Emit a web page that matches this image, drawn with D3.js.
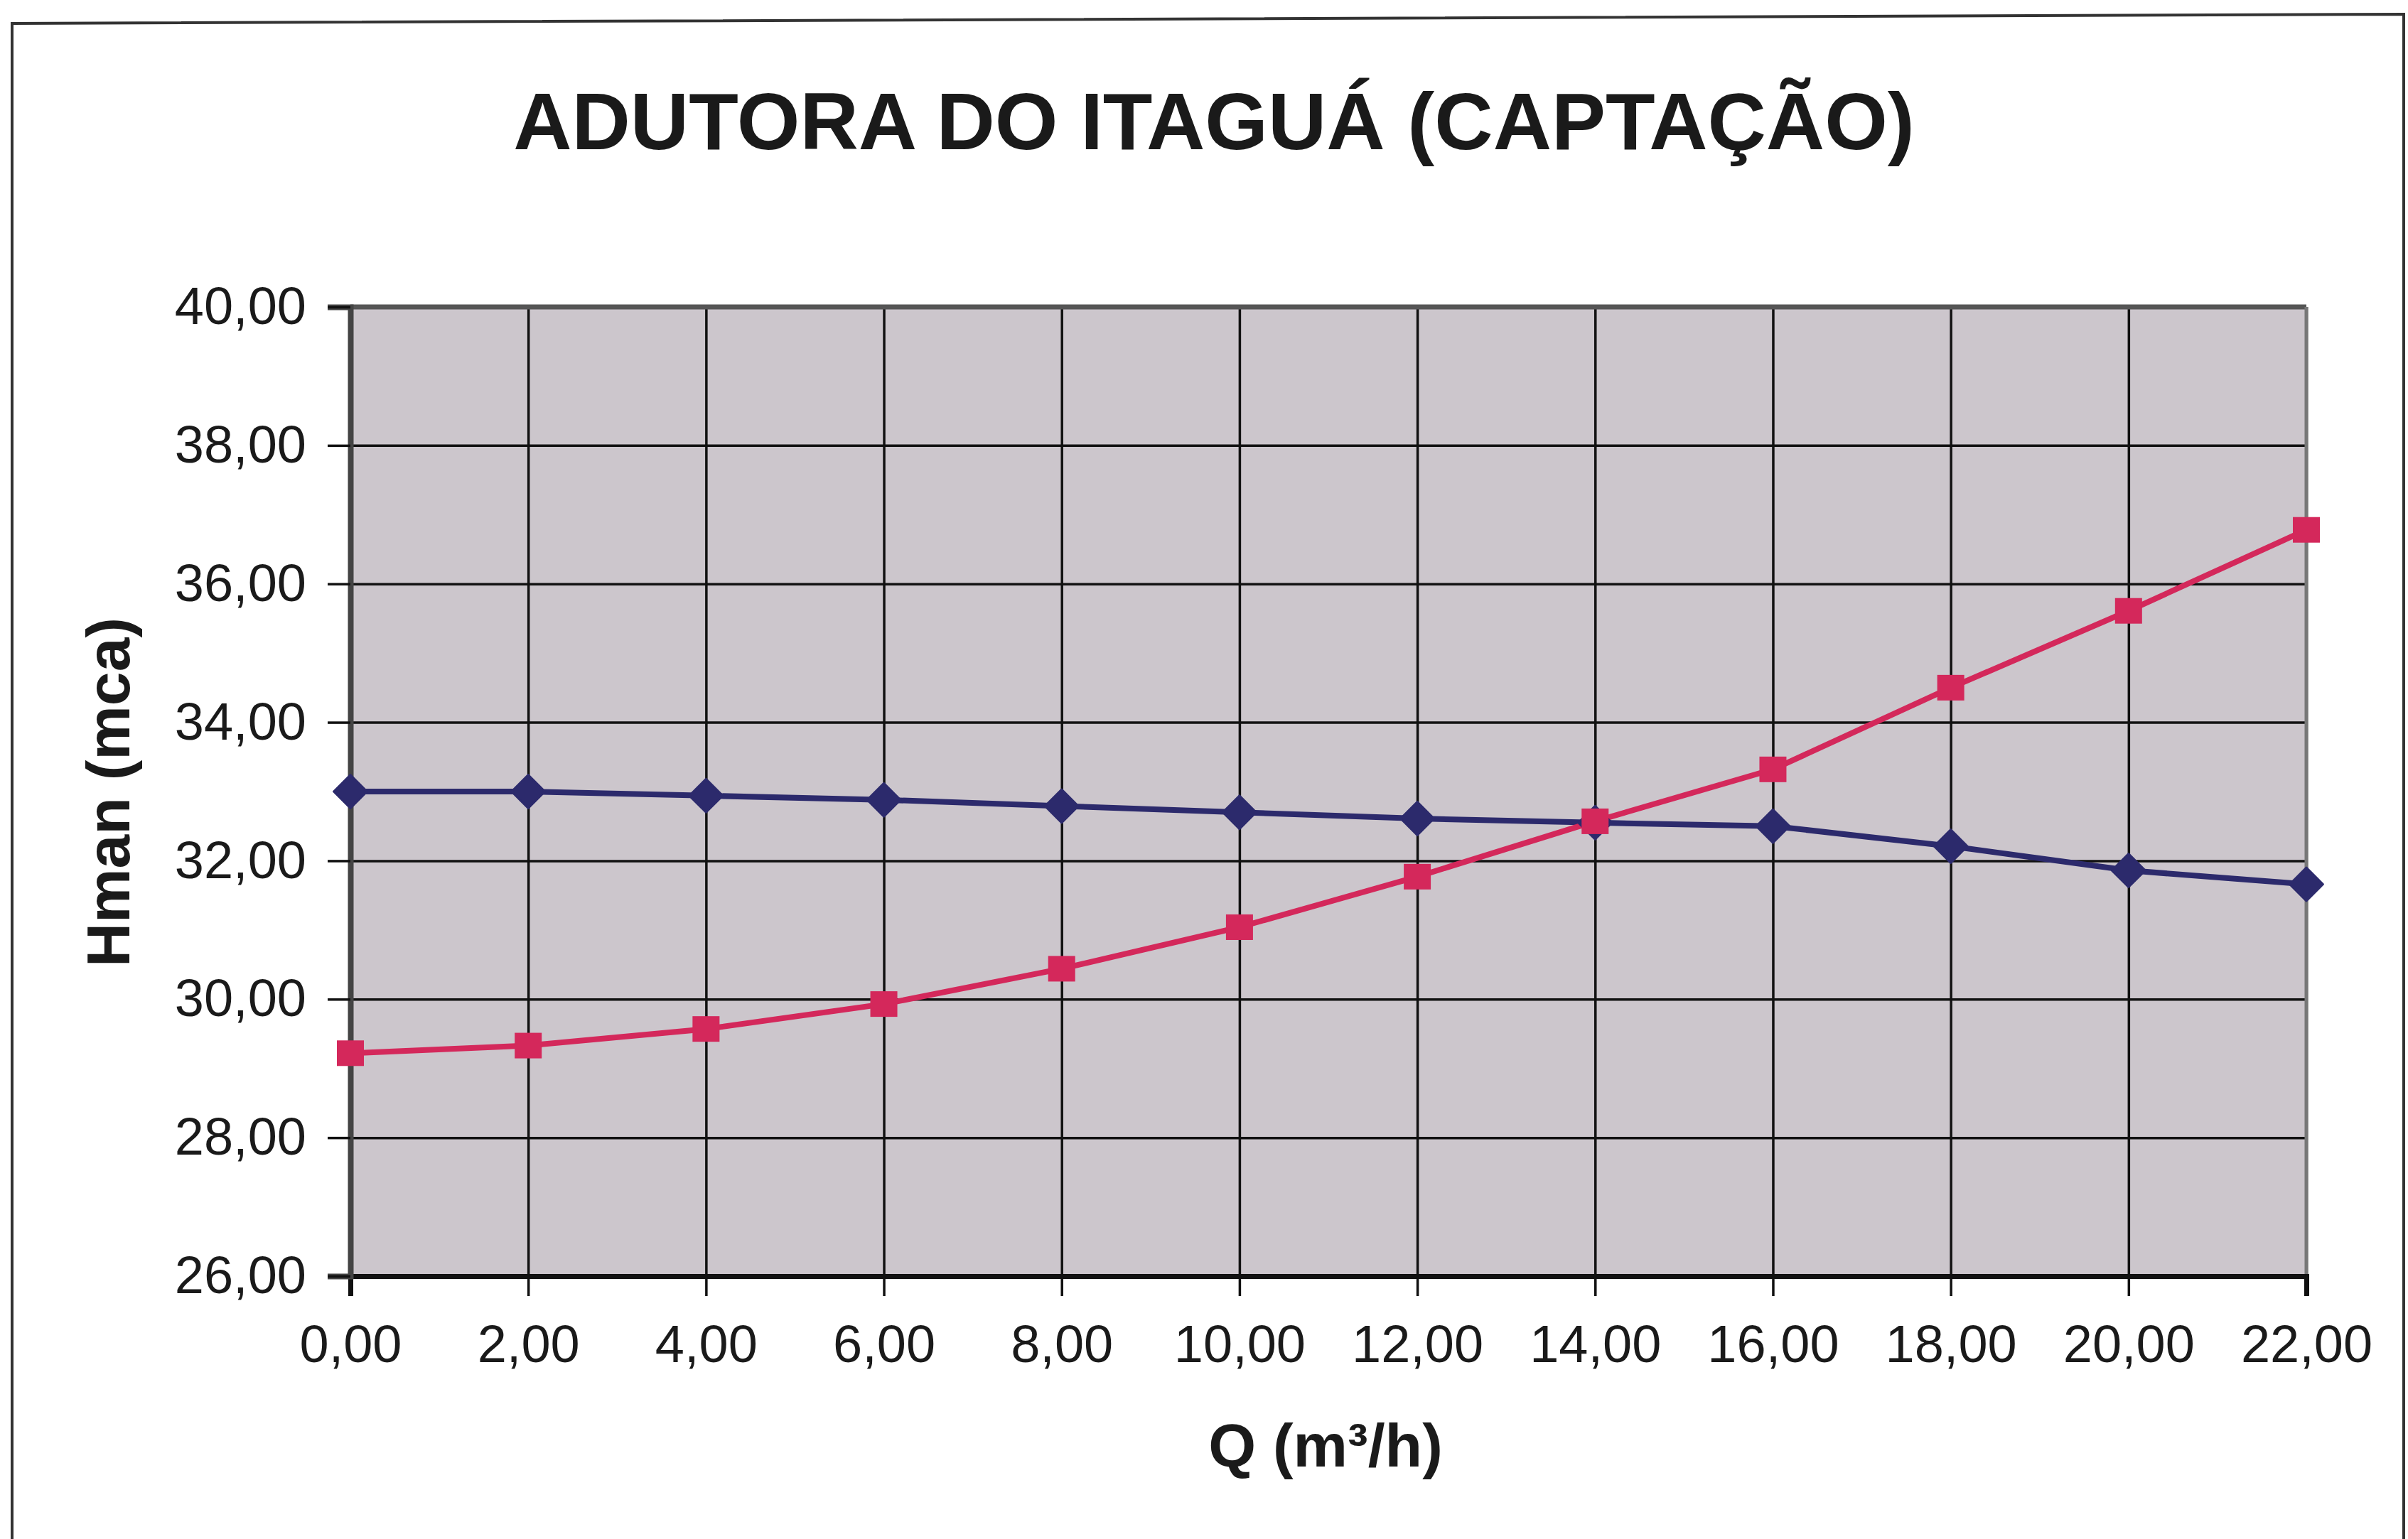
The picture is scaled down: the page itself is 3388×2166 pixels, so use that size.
<!DOCTYPE html>
<html>
<head>
<meta charset="utf-8">
<script src="https://cdn.jsdelivr.net/npm/d3@7"></script>
<style>
  body { margin: 0; background: #fff; }
  svg { display: block; }
  text { font-family: "Liberation Sans", Arial, sans-serif; fill: #1a1a1a; }
</style>
</head>
<body>
<main></main>
<script>
var w = 3388;
var h = 2166;

// data
var qValues = [0, 2, 4, 6, 8, 10, 12, 14, 16, 18, 20, 22];
var pumpCurve = [33.00, 33.00, 32.94, 32.88, 32.79, 32.70, 32.61, 32.55, 32.50, 32.21, 31.86, 31.66];
var systemCurve = [29.22, 29.33, 29.57, 29.93, 30.44, 31.04, 31.77, 32.57, 33.32, 34.50, 35.61, 36.78];
var xTicks = [0, 2, 4, 6, 8, 10, 12, 14, 16, 18, 20, 22];
var yTicks = [26, 28, 30, 32, 34, 36, 38, 40];

var plot = { left: 493, right: 3245, top: 432, bottom: 1796 };

var locale = d3.formatLocale({ decimal: ",", thousands: ".", grouping: [3], currency: ["R$", ""] });
var fmt = locale.format(".2f");

var svg = d3.select("main").append("svg").attr("width", w).attr("height", h);

// outer frame
svg.append("path")
  .attr("d", "M17," + (h + 10) + " L17,33 L3382,20 L3382," + (h + 10))
  .attr("fill", "none")
  .attr("stroke", "#333")
  .attr("stroke-width", 4);

// scales
var xScale = d3.scaleLinear().domain([0, 22]).range([plot.left, plot.right]);
var yScale = d3.scaleLinear().domain([26, 40]).range([plot.bottom, plot.top]);

// plot background
svg.append("rect")
  .attr("x", plot.left)
  .attr("y", plot.top)
  .attr("width", plot.right - plot.left)
  .attr("height", plot.bottom - plot.top)
  .attr("fill", "#ccc6cc");

// grid lines
svg.append("g")
  .attr("class", "grid x")
  .attr("transform", "translate(0," + plot.bottom + ")")
  .call(d3.axisBottom(xScale).tickValues(xTicks).tickSize(-(plot.bottom - plot.top)).tickFormat(""))
  .call(function (g) { g.select(".domain").remove(); })
  .selectAll("line").attr("stroke", "#111").attr("stroke-width", 3.5);

svg.append("g")
  .attr("class", "grid y")
  .attr("transform", "translate(" + plot.left + ",0)")
  .call(d3.axisLeft(yScale).tickValues(yTicks).tickSize(-(plot.right - plot.left)).tickFormat(""))
  .call(function (g) { g.select(".domain").remove(); })
  .selectAll("line").attr("stroke", "#111").attr("stroke-width", 3.5);

// plot border (top and right)
svg.append("line")
  .attr("x1", plot.left).attr("x2", plot.right)
  .attr("y1", plot.top).attr("y2", plot.top)
  .attr("stroke", "#555").attr("stroke-width", 7);
svg.append("line")
  .attr("x1", plot.right).attr("x2", plot.right)
  .attr("y1", plot.top).attr("y2", plot.bottom)
  .attr("stroke", "#777").attr("stroke-width", 5);

// axes
var xAxis = d3.axisBottom(xScale).tickValues(xTicks).tickSize(28).tickPadding(40).tickFormat(fmt);
var yAxis = d3.axisLeft(yScale).tickValues(yTicks).tickSize(32).tickPadding(30).tickFormat(fmt);

var gx = svg.append("g")
  .attr("class", "axis x")
  .attr("transform", "translate(0," + plot.bottom + ")")
  .call(xAxis);
gx.select(".domain").attr("stroke", "#111").attr("stroke-width", 7);
gx.selectAll("line").attr("stroke", "#111").attr("stroke-width", 3.5);
gx.selectAll("text").attr("font-size", "74px").attr("fill", "#1a1a1a");

var gy = svg.append("g")
  .attr("class", "axis y")
  .attr("transform", "translate(" + plot.left + ",0)")
  .call(yAxis);
gy.select(".domain").attr("stroke", "#444").attr("stroke-width", 8);
gy.selectAll("line").attr("stroke", "#111").attr("stroke-width", 3.5);
gy.selectAll("text").attr("font-size", "74px").attr("fill", "#1a1a1a");

// lines
var line = d3.line()
  .x(function (d) { return xScale(d.q); })
  .y(function (d) { return yScale(d.h); });

var pumpData = qValues.map(function (q, i) { return { q: q, h: pumpCurve[i] }; });
var systemData = qValues.map(function (q, i) { return { q: q, h: systemCurve[i] }; });

svg.append("path")
  .datum(pumpData)
  .attr("class", "line pump")
  .attr("d", line)
  .attr("fill", "none")
  .attr("stroke", "#2c2a6c")
  .attr("stroke-width", 8);

svg.append("path")
  .datum(systemData)
  .attr("class", "line system")
  .attr("d", line)
  .attr("fill", "none")
  .attr("stroke", "#d4285b")
  .attr("stroke-width", 8);

// markers
var diamond = d3.symbol().type(d3.symbolDiamond2).size(1400);
svg.selectAll("path.pump-dot")
  .data(pumpData)
  .enter()
  .append("path")
  .attr("class", "pump-dot")
  .attr("d", diamond)
  .attr("transform", function (d) { return "translate(" + xScale(d.q) + "," + yScale(d.h) + ")"; })
  .attr("fill", "#2c2a6c")
  .attr("stroke", "#2c2a6c")
  .attr("stroke-width", 3)
  .attr("stroke-linejoin", "round");

svg.selectAll("rect.system-dot")
  .data(systemData)
  .enter()
  .append("rect")
  .attr("class", "system-dot")
  .attr("x", function (d) { return xScale(d.q) - 19; })
  .attr("y", function (d) { return yScale(d.h) - 18; })
  .attr("width", 38)
  .attr("height", 36)
  .attr("fill", "#d4285b");

// title
svg.append("text")
  .attr("x", 1708)
  .attr("y", 210)
  .attr("text-anchor", "middle")
  .attr("font-size", "114px")
  .attr("font-weight", "bold")
  .text("ADUTORA DO ITAGUÁ (CAPTAÇÃO)");

// axis titles
svg.append("text")
  .attr("x", 1865)
  .attr("y", 2064)
  .attr("text-anchor", "middle")
  .attr("font-size", "86px")
  .attr("font-weight", "bold")
  .text("Q (m³/h)");

svg.append("text")
  .attr("transform", "translate(182,1115) rotate(-90)")
  .attr("text-anchor", "middle")
  .attr("font-size", "86px")
  .attr("font-weight", "bold")
  .text("Hman (mca)");
</script>
</body>
</html>
